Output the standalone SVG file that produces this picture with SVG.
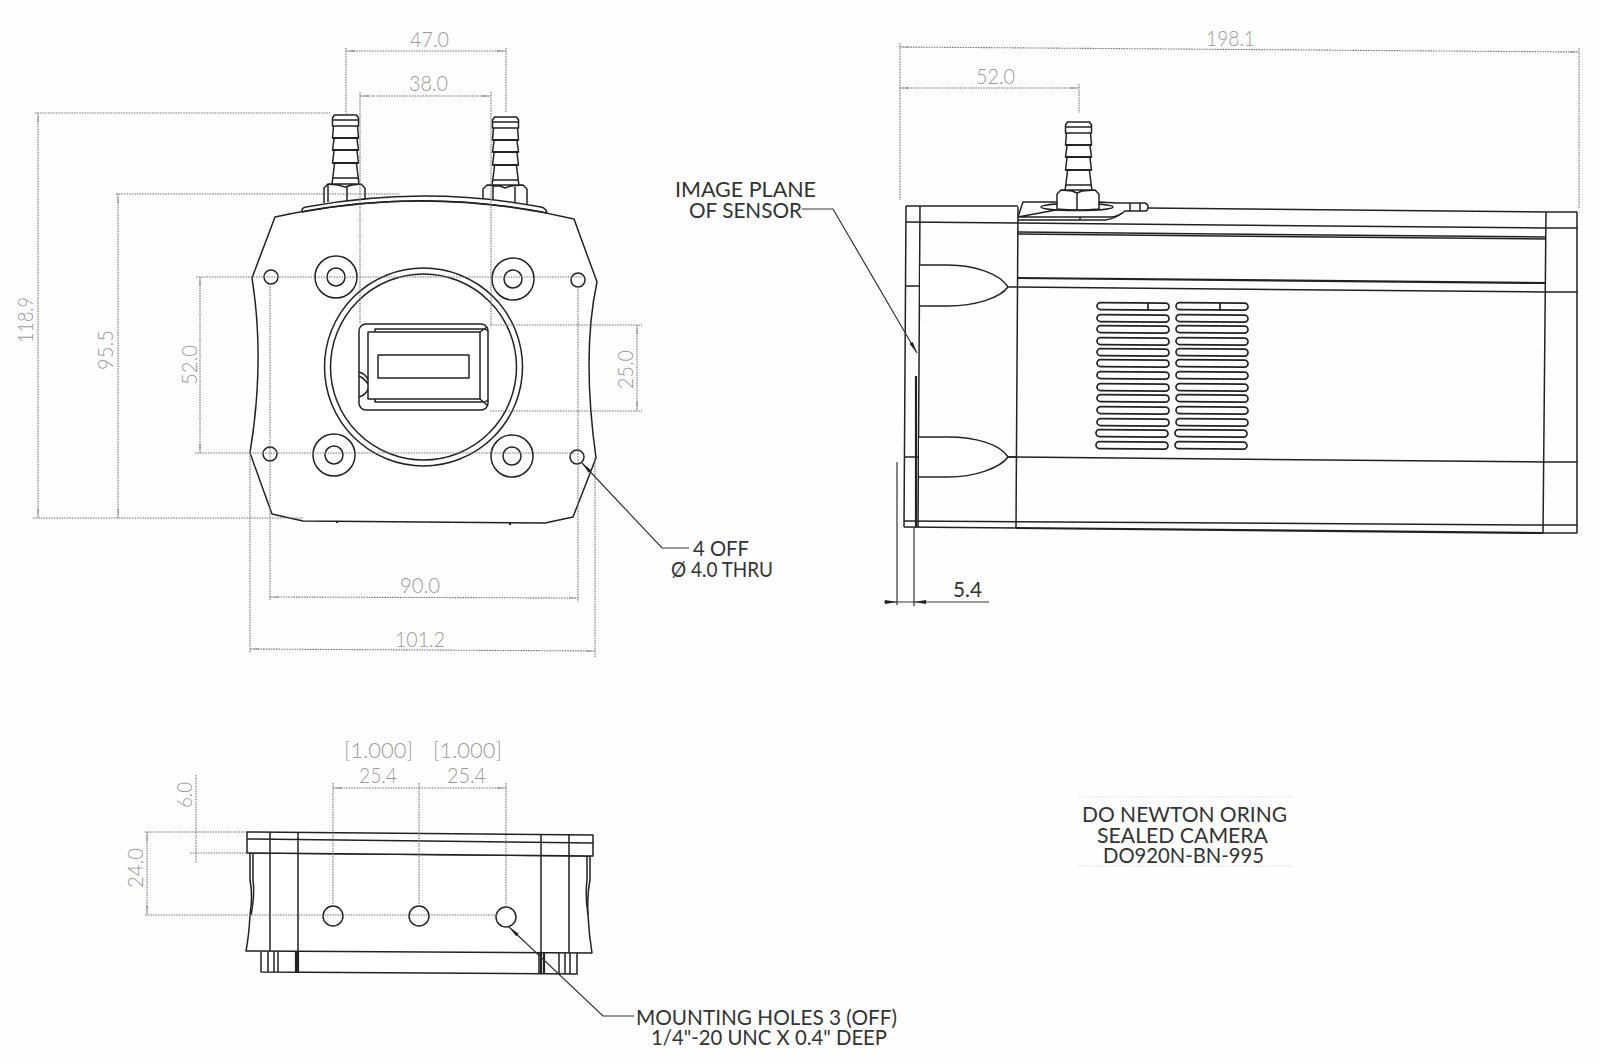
<svg xmlns="http://www.w3.org/2000/svg" xmlns:xlink="http://www.w3.org/1999/xlink" width="1600" height="1064" viewBox="0 0 1600 1064">
<style>
.o{fill:none;stroke:#222;stroke-width:1.5;stroke-linejoin:round}
.t{fill:none;stroke:#222;stroke-width:2.2}
.f{fill:#fff;stroke:#222;stroke-width:1.5;stroke-linejoin:round}
.d{fill:none;stroke:#777;stroke-width:1.1;stroke-dasharray:1.6 1}
.da{fill:none;stroke:#777;stroke-width:1.1;stroke-dasharray:1.6 1;marker-start:url(#ga);marker-end:url(#ga)}
.l{fill:none;stroke:#333;stroke-width:1.2}
.dt{font-family:"Lato","Liberation Sans",sans-serif;font-weight:300;font-size:21px;fill:#9a9a9a}
.lt{font-family:"Lato","Liberation Sans",sans-serif;font-weight:400;font-size:21px;fill:#333}
.s{fill:none;stroke:#222;stroke-width:1.7}
</style>
<defs>
<marker id="ga" viewBox="0 0 12 4" refX="12" refY="2" markerUnits="userSpaceOnUse" markerWidth="10" markerHeight="3" orient="auto-start-reverse"><path d="M12,2 L0,0.8 V3.2 Z" fill="#999"/></marker>
<marker id="ba" viewBox="0 0 14 6" refX="14" refY="3" markerUnits="userSpaceOnUse" markerWidth="14" markerHeight="5" orient="auto-start-reverse"><path d="M14,3 L0,0.8 V5.2 Z" fill="#222"/></marker>
<g id="barb">
<path class="f" d="M-11,0 H11 L13,3 V11 H-13 V3 Z"/>
<path class="o" d="M-13,5 H13 M-12,11 L-13,23 H13 L12,11 M-11.5,24 L-13,35 H13 L11.5,24 M-11.5,36 L-13,48 H13 L11.5,36 M-11,49 L-13.5,69 M11,49 L13.5,69 M-13,63 H13"/>
<path class="t" d="M-13,23 H13 M-13,35 H13 M-13,48 H13"/>
</g>
<rect id="slot" x="0" y="-3.5" width="72" height="7" rx="3.5" class="s" transform="rotate(0.5)"/>
</defs>
<rect width="1600" height="1064" fill="#fefefe"/>

<g id="front-view">
<use xlink:href="#barb" href="#barb" x="345.5" y="115"/>
<use xlink:href="#barb" href="#barb" x="505.5" y="117"/>
<path class="f" d="M324,203 V188 L328,184 H361 L365,188 V200 M328,184 V202 M347,187 V201 M328,184 L338,185 L345,187 L352,185 L361,184"/>
<path class="f" d="M483,205 V189 L487,185 H523 L527,189 V207 M493,186 V204 M515,187 V206 M487,185 L500,186 L505,188 L511,186 L523,185"/>
<path class="f" d="M302,212 Q301,208 306,207 Q425,185 541,207 Q546,208 547,213"/>
<path class="f" d="M275,217 Q425,184 574,219 L597,282 C586.6,330 586.6,390 596,458 L573,517 L545,523 L303,521 L272,514 L250,453 C260.3,390 260.3,330 252,278 Z"/>
<path class="o" d="M302,212 Q425,189 547,213"/>
<circle class="o" cx="271" cy="277" r="7"/>
<circle class="o" cx="578" cy="280" r="7"/>
<circle class="o" cx="270" cy="454" r="7"/>
<circle class="o" cx="577" cy="457" r="7"/>
<circle class="o" cx="336" cy="277" r="21"/><circle class="o" cx="336" cy="277" r="9"/>
<circle class="o" cx="513" cy="279" r="21"/><circle class="o" cx="513" cy="279" r="9"/>
<circle class="o" cx="334" cy="455" r="21"/><circle class="o" cx="334" cy="455" r="9"/>
<circle class="o" cx="512" cy="456" r="21"/><circle class="o" cx="512" cy="456" r="9"/>
<circle class="o" cx="423.5" cy="367" r="99"/><circle class="o" cx="423.5" cy="367" r="93"/>
<rect class="o" x="359" y="324" width="129" height="86" rx="7"/>
<rect class="o" x="368" y="332" width="112" height="67"/>
<path class="o" d="M375,332 V329 H485 L488,331 M480,332 L487,327 M375,399 V402 H485 L488,400 M480,399 L487,405 M359,372 Q366,374 368,380 M359,376 Q364,378 368,384 M359,397 Q366,395 368,389"/>
<rect class="o" x="378" y="355" width="91" height="23"/>
<path d="M336,522h2M509,524h2" stroke="#222" stroke-width="2" fill="none"/>
</g>

<g id="side-view">
<use xlink:href="#barb" href="#barb" x="1078.5" y="122"/>
<path class="f" d="M1018,217 L1023,202 H1057 M1099,202 L1117,203 L1145,203 Q1148,204 1148,207 Q1148,211 1145,211 L1125,211 Q1118,217 1110,217 H1018 Z"/>
<path class="o" d="M1018,220 H1105 Q1115,219 1122,213 M1130,203 V211 M1140,203 V211 M1080,217 V220"/>
<ellipse class="f" cx="1077" cy="207" rx="36" ry="3.5"/>
<path class="f" d="M1057,209 V194 L1061,190 H1095 L1099,194 V209 Q1078,211 1057,209 Z M1077,193 V210 M1061,190 L1072,191 L1077,193 L1082,191 L1095,190"/>
<path class="o" d="M906,206 H1018 M906,206 L904,527 M920,206 L918,527 M1018,207 L1016,528 M1148,208 L1547,212 H1577 M1546,212 L1543,533 M1577,212 V533"/>
<path class="o" d="M906,222 L1018,223 L1546,228 H1577 M1018,232 L1546,237 M1018,234 L1546,239 M1018,287 L1546,292 H1577 M906,286 H920 M904,457 H918 M1008,457 L1546,462 H1577 M904,521 L1543,525 H1577 M904,527 L1016,528 M1543,533 H1577"/>
<path class="t" d="M1018,278 L1546,283 M1016,528 L1543,533"/>
<path class="f" d="M920,265 H948 C975,265 1000,274 1008,287 C1000,298 975,306 948,306 H920 M1008,287 H1018"/>
<path class="f" d="M919,437 H948 C975,437 1000,444 1008,457 C1000,468 975,477 948,477 H919 M1008,457 H1016"/>
<g id="vents">
<use xlink:href="#slot" href="#slot" x="1097" y="306"/><use xlink:href="#slot" href="#slot" x="1176" y="306"/>
<use xlink:href="#slot" href="#slot" x="1097" y="318"/><use xlink:href="#slot" href="#slot" x="1176" y="318"/>
<use xlink:href="#slot" href="#slot" x="1097" y="329"/><use xlink:href="#slot" href="#slot" x="1176" y="329"/>
<use xlink:href="#slot" href="#slot" x="1097" y="341"/><use xlink:href="#slot" href="#slot" x="1176" y="341"/>
<use xlink:href="#slot" href="#slot" x="1097" y="352"/><use xlink:href="#slot" href="#slot" x="1176" y="352"/>
<use xlink:href="#slot" href="#slot" x="1097" y="363"/><use xlink:href="#slot" href="#slot" x="1176" y="363"/>
<use xlink:href="#slot" href="#slot" x="1097" y="375"/><use xlink:href="#slot" href="#slot" x="1176" y="375"/>
<use xlink:href="#slot" href="#slot" x="1097" y="387"/><use xlink:href="#slot" href="#slot" x="1176" y="387"/>
<use xlink:href="#slot" href="#slot" x="1097" y="398"/><use xlink:href="#slot" href="#slot" x="1176" y="398"/>
<use xlink:href="#slot" href="#slot" x="1097" y="410"/><use xlink:href="#slot" href="#slot" x="1176" y="410"/>
<use xlink:href="#slot" href="#slot" x="1097" y="422"/><use xlink:href="#slot" href="#slot" x="1176" y="422"/>
<use xlink:href="#slot" href="#slot" x="1096" y="433"/><use xlink:href="#slot" href="#slot" x="1175" y="433"/>
<use xlink:href="#slot" href="#slot" x="1096" y="445"/><use xlink:href="#slot" href="#slot" x="1175" y="445"/>
<path class="s" d="M1148,302 V310 M1220,303 V311"/>
</g>
</g>

<g id="bottom-view">
<path class="f" d="M261,952 V972 L577,974 V953"/>
<path class="o" d="M268,952 V972 M274,952 V972 M278,952 V972 M539,953 V974 M559,953 V974 M565,953 V974 M570,953 V974"/>
<path class="t" d="M296,952 V972 M298,952 V972 M541,953 V974 M544,953 V974"/>
<path class="f" d="M250,853 V880 Q253,895 250,915 Q249,935 246,951 L592,953 Q589,935 588,915 Q587,895 590,880 V856 Z"/>
<path class="o" d="M253,853 V880 Q255,895 251,915 M587,856 V880 Q585,895 588,915"/>
<path class="f" d="M247,832 L593,835 V856 L247,853 Z"/>
<path class="o" d="M247,839 L593,843 M270,832 V951 M298,832 V951 M541,835 V953 M569,835 V953"/>
<circle class="o" cx="333" cy="916" r="10"/>
<circle class="o" cx="419" cy="916" r="10"/>
<circle class="o" cx="506" cy="917" r="10"/>
</g>

<g id="connectors">
<path class="d" d="M346,48 V115 M506,48 V112 M360,92 V324 M491,92 V325"/>
<path class="da" d="M346,51 H506"/>
<path class="da" d="M360,96 H491"/>
<path class="d" d="M35,113 H330 M33,518 H303 M116,194 H400 M196,277 H582 M195,453 H575"/>
<path class="da" d="M38,113 V518"/>
<path class="da" d="M118,194 V518"/>
<path class="da" d="M200,277 V453"/>
<path class="d" d="M490,325 H642 M490,411 H642"/>
<path class="da" d="M637,325 V411"/>
<path class="d" d="M270,284 V600 M578,287 V602 M250,453 V652 M595,458 V657"/>
<path class="da" d="M270,597 L578,598"/>
<path class="da" d="M250,649 L595,651"/>
<path class="d" d="M900,43 V200 M1579,48 V208 M1079,84 V113"/>
<path class="da" d="M900,47 L1579,52"/>
<path class="da" d="M900,88 H1079"/>
<path class="d" d="M333,783 V906 M419,783 V906 M506,783 V907 M145,915 H497 M145,832 H247 M190,853 H247"/>
<path class="da" d="M333,788 H506"/>
<path class="da" d="M147,832 V915"/>
<path class="d" d="M196,775 V863"/>
<path class="l" d="M582,463 L662,548 H689" marker-start="url(#ba)"/>
<path class="l" d="M802,209 H833 L917,353" marker-end="url(#ba)"/>
<path class="t" d="M916,376 V527"/>
<path class="l" d="M897,462 V605 M914,527 V606"/>
<path class="l" d="M884,602 H989"/>
<path d="M897,602 L885,600 V604 Z M914,602 L926,600 V604 Z" fill="#222"/>
<path class="l" d="M509,927 L603,1016 H634" marker-start="url(#ba)"/>
<path d="M1078,797 H1292 M1078,866 H1292" fill="none" stroke="#ddd" stroke-dasharray="1.5 1"/>
</g>

<g id="dimension-labels">
<text class="dt" x="410" y="47" textLength="39" lengthAdjust="spacingAndGlyphs">47.0</text>
<text class="dt" x="409" y="91" textLength="39" lengthAdjust="spacingAndGlyphs">38.0</text>
<text class="dt" transform="translate(33 343) rotate(-90)" textLength="46" lengthAdjust="spacingAndGlyphs">118.9</text>
<text class="dt" transform="translate(113 370) rotate(-90)" textLength="40" lengthAdjust="spacingAndGlyphs">95.5</text>
<text class="dt" transform="translate(197 385) rotate(-90)" textLength="40" lengthAdjust="spacingAndGlyphs">52.0</text>
<text class="dt" transform="translate(633 389) rotate(-90)" textLength="39" lengthAdjust="spacingAndGlyphs">25.0</text>
<text class="dt" x="400" y="593" textLength="40" lengthAdjust="spacingAndGlyphs">90.0</text>
<text class="dt" x="395" y="647" textLength="50" lengthAdjust="spacingAndGlyphs">101.2</text>
<text class="dt" x="1206" y="46" textLength="49" lengthAdjust="spacingAndGlyphs">198.1</text>
<text class="dt" x="976" y="84" textLength="39" lengthAdjust="spacingAndGlyphs">52.0</text>
<text class="dt" x="344" y="758" textLength="69" lengthAdjust="spacingAndGlyphs">[1.000]</text>
<text class="dt" x="433" y="758" textLength="69" lengthAdjust="spacingAndGlyphs">[1.000]</text>
<text class="dt" x="359" y="783" textLength="38" lengthAdjust="spacingAndGlyphs">25.4</text>
<text class="dt" x="447" y="783" textLength="39" lengthAdjust="spacingAndGlyphs">25.4</text>
<text class="dt" transform="translate(143 888) rotate(-90)" textLength="40" lengthAdjust="spacingAndGlyphs">24.0</text>
<text class="dt" transform="translate(192 808) rotate(-90)" textLength="26" lengthAdjust="spacingAndGlyphs">6.0</text>
</g>

<g id="notes">
<text class="lt" x="675" y="197" textLength="141" lengthAdjust="spacingAndGlyphs">IMAGE PLANE</text>
<text class="lt" x="689" y="218" textLength="113" lengthAdjust="spacingAndGlyphs">OF SENSOR</text>
<text class="lt" x="693" y="556" textLength="56" lengthAdjust="spacingAndGlyphs">4 OFF</text>
<text class="lt" x="671" y="577" textLength="102" lengthAdjust="spacingAndGlyphs">Ø 4.0 THRU</text>
<text class="lt" x="953" y="597" textLength="29" lengthAdjust="spacingAndGlyphs">5.4</text>
<text class="lt" x="636" y="1025" textLength="261" lengthAdjust="spacingAndGlyphs">MOUNTING HOLES 3 (OFF)</text>
<text class="lt" x="651" y="1045" textLength="236" lengthAdjust="spacingAndGlyphs">1/4"-20 UNC X 0.4" DEEP</text>
</g>

<g id="title">
<text class="lt" x="1082" y="822" textLength="205" lengthAdjust="spacingAndGlyphs">DO NEWTON ORING</text>
<text class="lt" x="1097" y="843" textLength="171" lengthAdjust="spacingAndGlyphs">SEALED CAMERA</text>
<text class="lt" x="1103" y="863" textLength="161" lengthAdjust="spacingAndGlyphs">DO920N-BN-995</text>
</g>
</svg>
